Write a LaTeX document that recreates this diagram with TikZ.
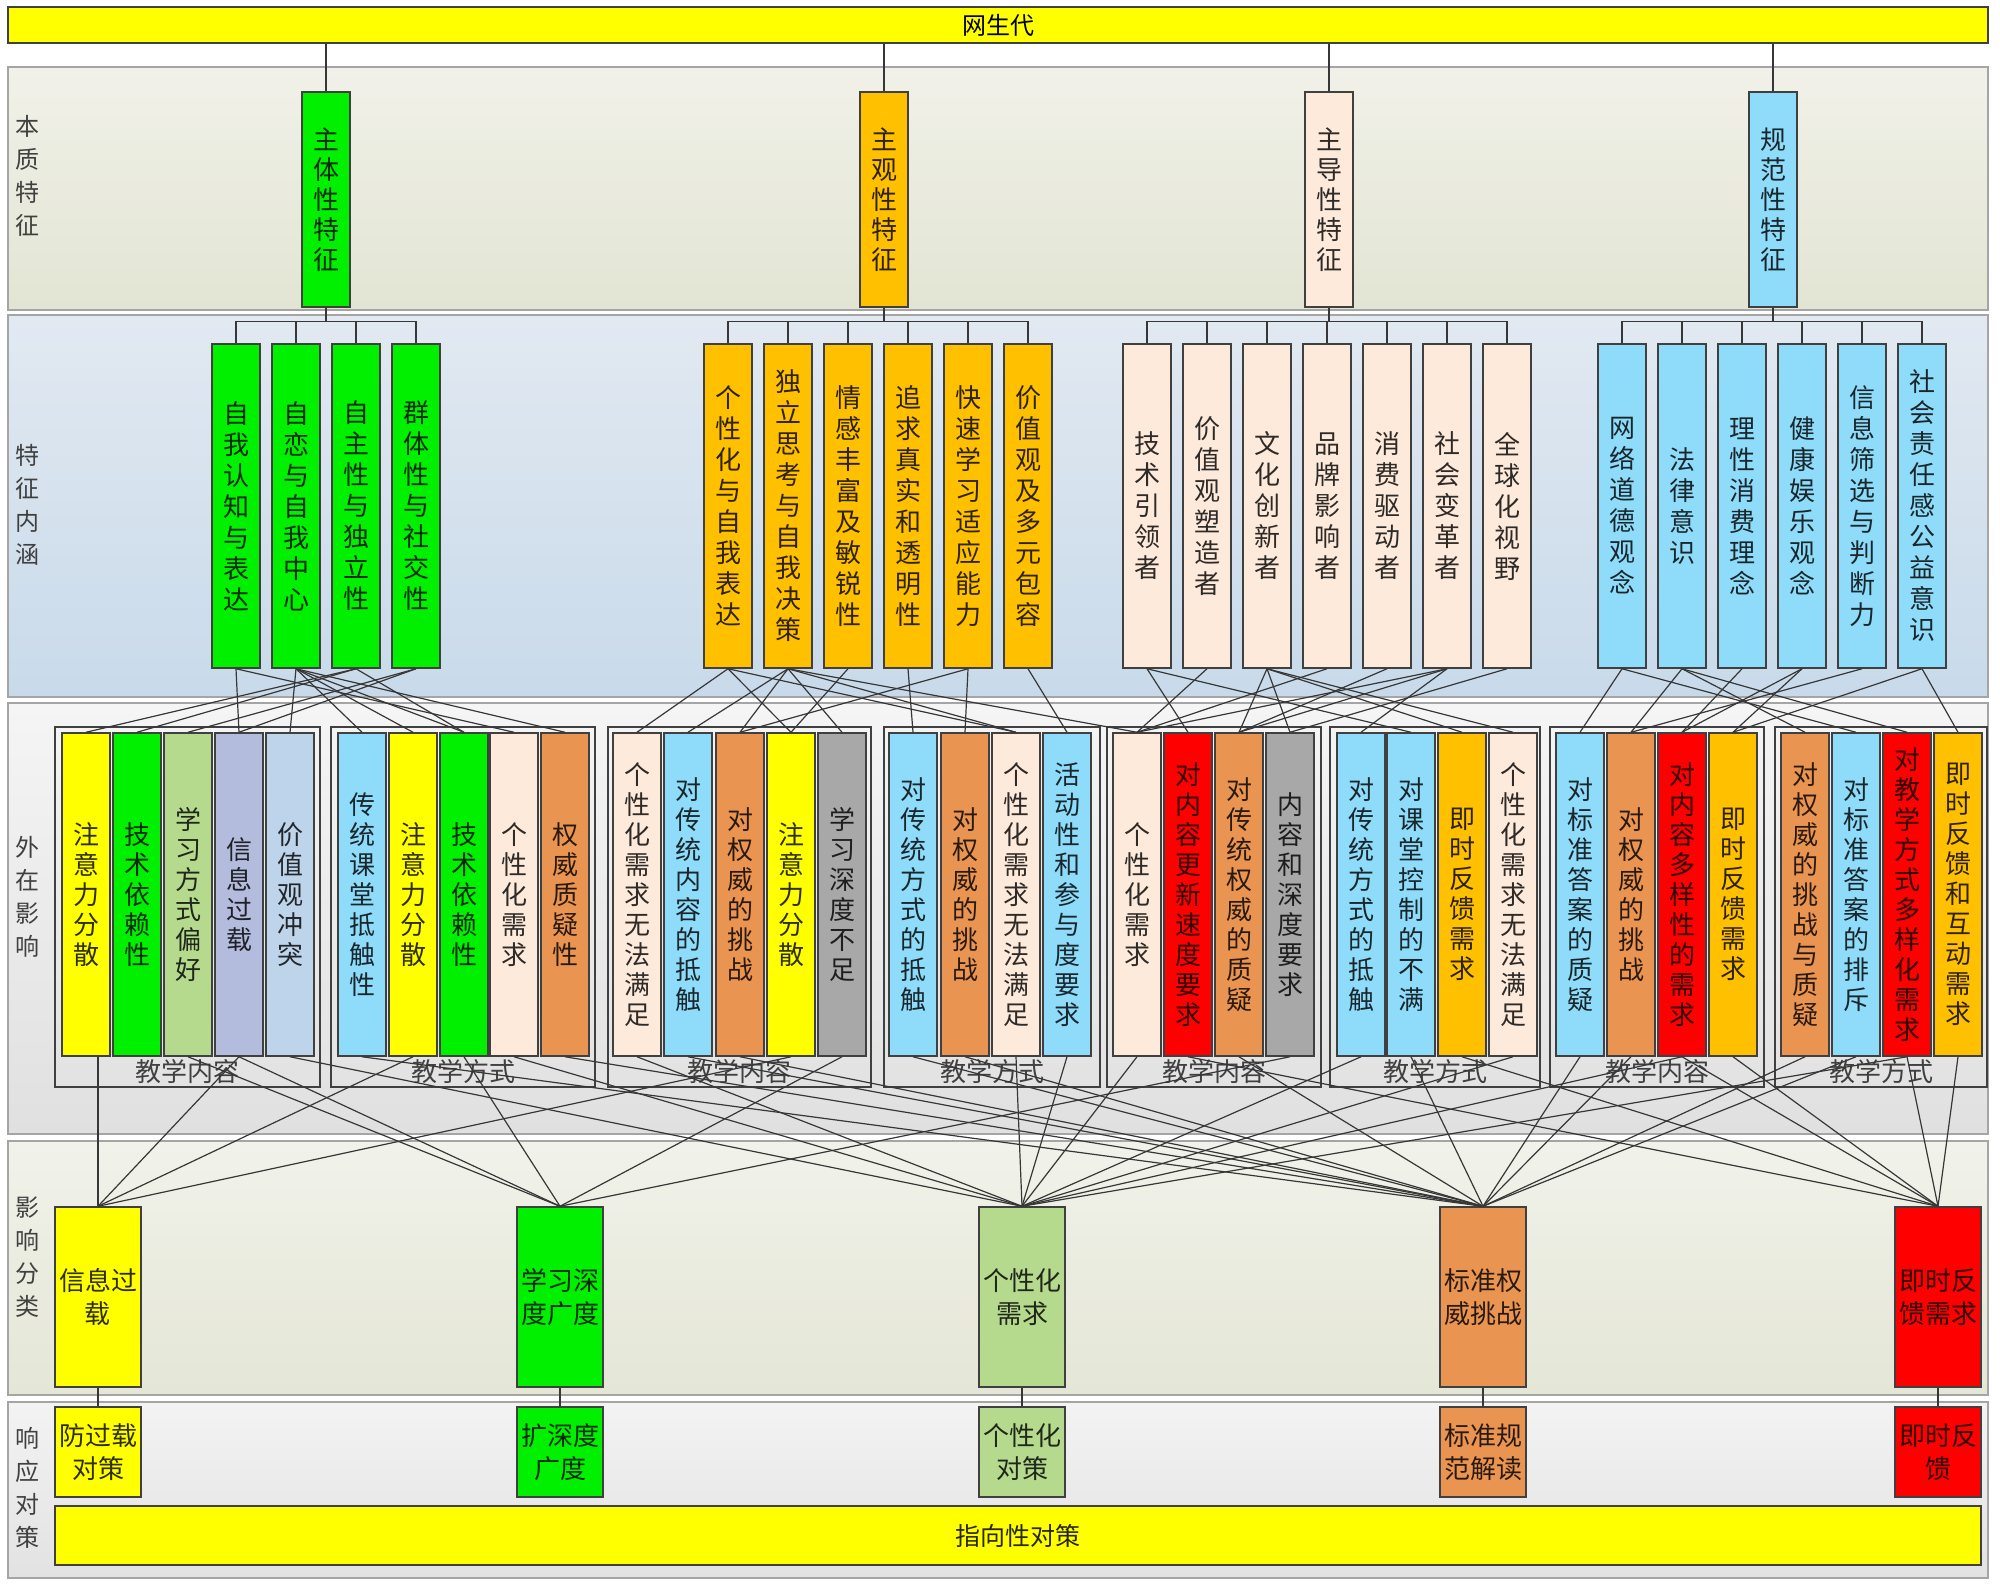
\documentclass[tikz,border=0pt]{standalone}
\usepackage{fontspec}
\setmainfont{Noto Sans CJK SC}
\definecolor{cyel}{RGB}{255,255,0}
\definecolor{cgrn}{RGB}{0,240,0}
\definecolor{corg}{RGB}{255,192,0}
\definecolor{cpch}{RGB}{253,234,218}
\definecolor{cblu}{RGB}{142,220,250}
\definecolor{clgr}{RGB}{181,218,142}
\definecolor{clav}{RGB}{180,188,222}
\definecolor{cstl}{RGB}{190,212,234}
\definecolor{cbrn}{RGB}{234,148,82}
\definecolor{cgry}{RGB}{168,168,168}
\definecolor{cred}{RGB}{255,0,0}
\definecolor{lnc}{RGB}{55,55,55}
\definecolor{bdc}{RGB}{64,64,64}
\definecolor{bandbd}{RGB}{165,165,165}
\definecolor{labc}{RGB}{64,64,64}
\makeatletter
\newcommand\vt[2][15pt]{\vbox{\baselineskip=#1\lineskiplimit=-100pt\lineskip=0pt\@tfor\vtc:=#2\do{\hbox{\vtc}}}}
\makeatother
\newcommand\bx{\fontsize{13}{15}\selectfont}
\tikzset{
  box/.style={draw=bdc, line width=0.75pt, inner sep=0pt, minimum width=24pt, font=\bx, text opacity=0.82},
  rowone/.style={box, minimum height=107.5pt},
  rowtwo/.style={box, minimum height=162pt},
  rowthree/.style={box, minimum height=161.5pt},
  rowfour/.style={box, minimum width=43pt, minimum height=90pt, align=center, font=\fontsize{13}{16.5}\selectfont},
  rowfive/.style={box, minimum width=43pt, minimum height=45pt, align=center, font=\fontsize{13}{16.5}\selectfont},
  conn/.style={draw=lnc, line width=0.6pt},
  frm/.style={draw=bdc, line width=0.75pt},
  band/.style={draw=bandbd, line width=0.8pt},
  bandlbl/.style={inner sep=0pt, text=labc, font=\fontsize{12}{16.5}\selectfont},
  grplbl/.style={inner sep=0pt, text=labc, font=\fontsize{13}{14}\selectfont},
}
\begin{document}
\begin{tikzpicture}[x=0.5pt,y=-0.5pt]
\useasboundingbox (0,0) rectangle (2000,1590);
\fill[white] (0,0) rectangle (2000,1590);
% bands
\shade[top color={rgb,255:red,241;green,241;blue,233}, bottom color={rgb,255:red,226;green,229;blue,211}] (8,67) rectangle (1988,310);
\draw[band] (8,67) rectangle (1988,310);
\shade[top color={rgb,255:red,226;green,233;blue,241}, bottom color={rgb,255:red,200;green,218;blue,234}] (8,315) rectangle (1988,697);
\draw[band] (8,315) rectangle (1988,697);
\shade[top color={rgb,255:red,245;green,245;blue,245}, bottom color={rgb,255:red,224;green,224;blue,224}] (8,703) rectangle (1988,1134);
\draw[band] (8,703) rectangle (1988,1134);
\shade[top color={rgb,255:red,241;green,242;blue,234}, bottom color={rgb,255:red,228;green,230;blue,214}] (8,1141) rectangle (1988,1395);
\draw[band] (8,1141) rectangle (1988,1395);
\shade[top color={rgb,255:red,243;green,243;blue,243}, bottom color={rgb,255:red,226;green,226;blue,226}] (8,1402) rectangle (1988,1578);
\draw[band] (8,1402) rectangle (1988,1578);
% band labels
\node[bandlbl] (l1) at (27,176) {\vt[16.5pt]{本质特征}};
\node[bandlbl] (l2) at (27,505) {\vt[16.5pt]{特征内涵}};
\node[bandlbl] (l3) at (27,897) {\vt[16.5pt]{外在影响}};
\node[bandlbl] (l4) at (27,1257) {\vt[16.5pt]{影响分类}};
\node[bandlbl] (l5) at (27,1488) {\vt[16.5pt]{响应对策}};
% top bar
\node[draw=bdc, line width=0.9pt, fill=cyel, minimum width=990pt, minimum height=18pt, inner sep=0pt, font=\fontsize{12}{13}\selectfont] (top) at (998,25) {网生代};
% row 1
\node[rowone,fill=cgrn] (p1) at (326,199.5) {\vt{主体性特征}};
\node[rowone,fill=corg] (p2) at (884,199.5) {\vt{主观性特征}};
\node[rowone,fill=cpch] (p3) at (1329,199.5) {\vt{主导性特征}};
\node[rowone,fill=cblu] (p4) at (1773,199.5) {\vt{规范性特征}};
\foreach \p in {p1,p2,p3,p4} \draw[conn] (\p.north) -- (\p.north |- top.south);
% row 2
\node[rowtwo,fill=cgrn] (g1a) at (236,506) {\vt[15.5pt]{自我认知与表达}};
\node[rowtwo,fill=cgrn] (g1b) at (296,506) {\vt[15.5pt]{自恋与自我中心}};
\node[rowtwo,fill=cgrn] (g1c) at (356,506) {\vt[15.5pt]{自主性与独立性}};
\node[rowtwo,fill=cgrn] (g1d) at (416,506) {\vt[15.5pt]{群体性与社交性}};
\node[rowtwo,fill=corg] (g2a) at (728,506) {\vt[15.5pt]{个性化与自我表达}};
\node[rowtwo,fill=corg] (g2b) at (788,506) {\vt[15.5pt]{独立思考与自我决策}};
\node[rowtwo,fill=corg] (g2c) at (848,506) {\vt[15.5pt]{情感丰富及敏锐性}};
\node[rowtwo,fill=corg] (g2d) at (908,506) {\vt[15.5pt]{追求真实和透明性}};
\node[rowtwo,fill=corg] (g2e) at (968,506) {\vt[15.5pt]{快速学习适应能力}};
\node[rowtwo,fill=corg] (g2f) at (1028,506) {\vt[15.5pt]{价值观及多元包容}};
\node[rowtwo,fill=cpch] (g3a) at (1147,506) {\vt[15.5pt]{技术引领者}};
\node[rowtwo,fill=cpch] (g3b) at (1207,506) {\vt[15.5pt]{价值观塑造者}};
\node[rowtwo,fill=cpch] (g3c) at (1267,506) {\vt[15.5pt]{文化创新者}};
\node[rowtwo,fill=cpch] (g3d) at (1327,506) {\vt[15.5pt]{品牌影响者}};
\node[rowtwo,fill=cpch] (g3e) at (1387,506) {\vt[15.5pt]{消费驱动者}};
\node[rowtwo,fill=cpch] (g3f) at (1447,506) {\vt[15.5pt]{社会变革者}};
\node[rowtwo,fill=cpch] (g3g) at (1507,506) {\vt[15.5pt]{全球化视野}};
\node[rowtwo,fill=cblu] (g4a) at (1622,506) {\vt[15.5pt]{网络道德观念}};
\node[rowtwo,fill=cblu] (g4b) at (1682,506) {\vt[15.5pt]{法律意识}};
\node[rowtwo,fill=cblu] (g4c) at (1742,506) {\vt[15.5pt]{理性消费理念}};
\node[rowtwo,fill=cblu] (g4d) at (1802,506) {\vt[15.5pt]{健康娱乐观念}};
\node[rowtwo,fill=cblu] (g4e) at (1862,506) {\vt[15.5pt]{信息筛选与判断力}};
\node[rowtwo,fill=cblu] (g4f) at (1922,506) {\vt[15.5pt]{社会责任感公益意识}};
\foreach \c in {g1a,g1b,g1c,g1d} \draw[conn] (\c.north) -- ++(0,-22) -| (p1.south);
\foreach \c in {g2a,g2b,g2c,g2d,g2e,g2f} \draw[conn] (\c.north) -- ++(0,-22) -| (p2.south);
\foreach \c in {g3a,g3b,g3c,g3d,g3e,g3f,g3g} \draw[conn] (\c.north) -- ++(0,-22) -| (p3.south);
\foreach \c in {g4a,g4b,g4c,g4d,g4e,g4f} \draw[conn] (\c.north) -- ++(0,-22) -| (p4.south);
% row 3 frames
\draw[frm] (55,727) rectangle (320,1087);   \node[grplbl] (t1) at (187.5,1072) {教学内容};
\draw[frm] (331,727) rectangle (595,1087);  \node[grplbl] (t2) at (463,1072) {教学方式};
\draw[frm] (608,727) rectangle (871,1087);  \node[grplbl] (t3) at (739.5,1072) {教学内容};
\draw[frm] (884,727) rectangle (1100,1087); \node[grplbl] (t4) at (992,1072) {教学方式};
\draw[frm] (1107,727) rectangle (1321,1087);\node[grplbl] (t5) at (1214,1072) {教学内容};
\draw[frm] (1330,727) rectangle (1540,1087);\node[grplbl] (t6) at (1435,1072) {教学方式};
\draw[frm] (1550,727) rectangle (1764,1087);\node[grplbl] (t7) at (1657,1072) {教学内容};
\draw[frm] (1775,727) rectangle (1987,1087);\node[grplbl] (t8) at (1881,1072) {教学方式};
% row 3 boxes
\node[rowthree,fill=cyel] (f1a) at (86,894.5) {\vt{注意力分散}};
\node[rowthree,fill=cgrn] (f1b) at (137,894.5) {\vt{技术依赖性}};
\node[rowthree,fill=clgr] (f1c) at (188,894.5) {\vt{学习方式偏好}};
\node[rowthree,fill=clav] (f1d) at (239,894.5) {\vt{信息过载}};
\node[rowthree,fill=cstl] (f1e) at (290,894.5) {\vt{价值观冲突}};
\node[rowthree,fill=cblu] (f2a) at (362,894.5) {\vt{传统课堂抵触性}};
\node[rowthree,fill=cyel] (f2b) at (413,894.5) {\vt{注意力分散}};
\node[rowthree,fill=cgrn] (f2c) at (464,894.5) {\vt{技术依赖性}};
\node[rowthree,fill=cpch] (f2d) at (514,894.5) {\vt{个性化需求}};
\node[rowthree,fill=cbrn] (f2e) at (565,894.5) {\vt{权威质疑性}};
\node[rowthree,fill=cpch] (f3a) at (637,894.5) {\vt{个性化需求无法满足}};
\node[rowthree,fill=cblu] (f3b) at (688,894.5) {\vt{对传统内容的抵触}};
\node[rowthree,fill=cbrn] (f3c) at (740,894.5) {\vt{对权威的挑战}};
\node[rowthree,fill=cyel] (f3d) at (791,894.5) {\vt{注意力分散}};
\node[rowthree,fill=cgry] (f3e) at (842,894.5) {\vt{学习深度不足}};
\node[rowthree,fill=cblu] (f4a) at (913,894.5) {\vt{对传统方式的抵触}};
\node[rowthree,fill=cbrn] (f4b) at (965,894.5) {\vt{对权威的挑战}};
\node[rowthree,fill=cpch] (f4c) at (1016,894.5) {\vt{个性化需求无法满足}};
\node[rowthree,fill=cblu] (f4d) at (1067,894.5) {\vt{活动性和参与度要求}};
\node[rowthree,fill=cpch] (f5a) at (1137,894.5) {\vt{个性化需求}};
\node[rowthree,fill=cred] (f5b) at (1188,894.5) {\vt{对内容更新速度要求}};
\node[rowthree,fill=cbrn] (f5c) at (1239,894.5) {\vt{对传统权威的质疑}};
\node[rowthree,fill=cgry] (f5d) at (1290,894.5) {\vt{内容和深度要求}};
\node[rowthree,fill=cblu] (f6a) at (1361,894.5) {\vt{对传统方式的抵触}};
\node[rowthree,fill=cblu] (f6b) at (1411,894.5) {\vt{对课堂控制的不满}};
\node[rowthree,fill=corg] (f6c) at (1462,894.5) {\vt{即时反馈需求}};
\node[rowthree,fill=cpch] (f6d) at (1513,894.5) {\vt{个性化需求无法满足}};
\node[rowthree,fill=cblu] (f7a) at (1580,894.5) {\vt{对标准答案的质疑}};
\node[rowthree,fill=cbrn] (f7b) at (1631,894.5) {\vt{对权威的挑战}};
\node[rowthree,fill=cred] (f7c) at (1682,894.5) {\vt{对内容多样性的需求}};
\node[rowthree,fill=corg] (f7d) at (1733,894.5) {\vt{即时反馈需求}};
\node[rowthree,fill=cbrn] (f8a) at (1805,894.5) {\vt{对权威的挑战与质疑}};
\node[rowthree,fill=cblu] (f8b) at (1856,894.5) {\vt{对标准答案的排斥}};
\node[rowthree,fill=cred] (f8c) at (1907,894.5) {\vt{对教学方式多样化需求}};
\node[rowthree,fill=corg] (f8d) at (1958,894.5) {\vt{即时反馈和互动需求}};
% row 4
\node[rowfour,fill=cyel] (c1) at (98,1297) {信息过\\载};
\node[rowfour,fill=cgrn] (c2) at (560,1297) {学习深\\度广度};
\node[rowfour,fill=clgr] (c3) at (1022,1297) {个性化\\需求};
\node[rowfour,fill=cbrn] (c4) at (1483,1297) {标准权\\威挑战};
\node[rowfour,fill=cred] (c5) at (1938,1297) {即时反\\馈需求};
% row 5
\node[rowfive,fill=cyel] (d1) at (98,1452) {防过载\\对策};
\node[rowfive,fill=cgrn] (d2) at (560,1452) {扩深度\\广度};
\node[rowfive,fill=clgr] (d3) at (1022,1452) {个性化\\对策};
\node[rowfive,fill=cbrn] (d4) at (1483,1452) {标准规\\范解读};
\node[rowfive,fill=cred] (d5) at (1938,1452) {即时反\\馈};
\node[draw=bdc, line width=0.9pt, fill=cyel, minimum width=963pt, minimum height=29.5pt, inner sep=0pt, font=\fontsize{12.5}{14}\selectfont, text opacity=0.85] (bot) at (1018,1535.5) {指向性对策};
\foreach \i in {1,...,5} \draw[conn] (c\i.south) -- (d\i.north);
% upper connectors
\foreach \a/\b in {g1a/f1d, g1a/f2d, g1b/f1e, g1b/f2a, g1b/f2b, g1b/f2c, g1b/f2e, g1c/f1a, g1c/f1b, g1c/f2c, g1d/f1c, g1d/f1d,
  g2a/f3a, g2a/f3d, g2a/f4c, g2b/f3b, g2b/f3c, g2b/f3e, g2b/f4c, g2b/f5a, g2c/f3d, g2d/f4a, g2e/f3c, g2e/f4b, g2f/f4d,
  g3a/f5b, g3a/f6b, g3b/f5a, g3c/f5c, g3c/f5d, g3c/f6c, g3c/f6d, g3d/f5a, g3e/f5c, g3f/f5a, g3f/f5c, g3f/f6a, g3g/f5d,
  g4a/f7a, g4a/f8b, g4b/f7b, g4b/f8a, g4b/f8c, g4c/f7c, g4d/f7c, g4d/f7d, g4e/f7b, g4f/f7d, g4f/f8d}
  \draw[conn] (\a.south) -- (\b.north);
% lower connectors
\draw[conn] ([xshift=6pt]f1a.south) -- (c1.north);
\foreach \a/\b in {f1d/c1, f2b/c1, f3d/c1,
  f1c/c2, f1d/c2, f2c/c2, f3e/c2, f5d/c2,
  f1e/c3, f2d/c3, f3a/c3, f4c/c3, f4d/c3, f5a/c3, f6a/c3, f6d/c3, f7c/c3, f8c/c3,
  f2a/c4, f2e/c4, f3b/c4, f3c/c4, f4a/c4, f4b/c4, f5c/c4, f6b/c4, f7a/c4, f7b/c4, f8a/c4, f8b/c4,
  f5b/c5, f6c/c5, f7c/c5, f7d/c5, f8c/c5, f8d/c5}
  \draw[conn] (\a.south) -- (\b.north);
\end{tikzpicture}
\end{document}
